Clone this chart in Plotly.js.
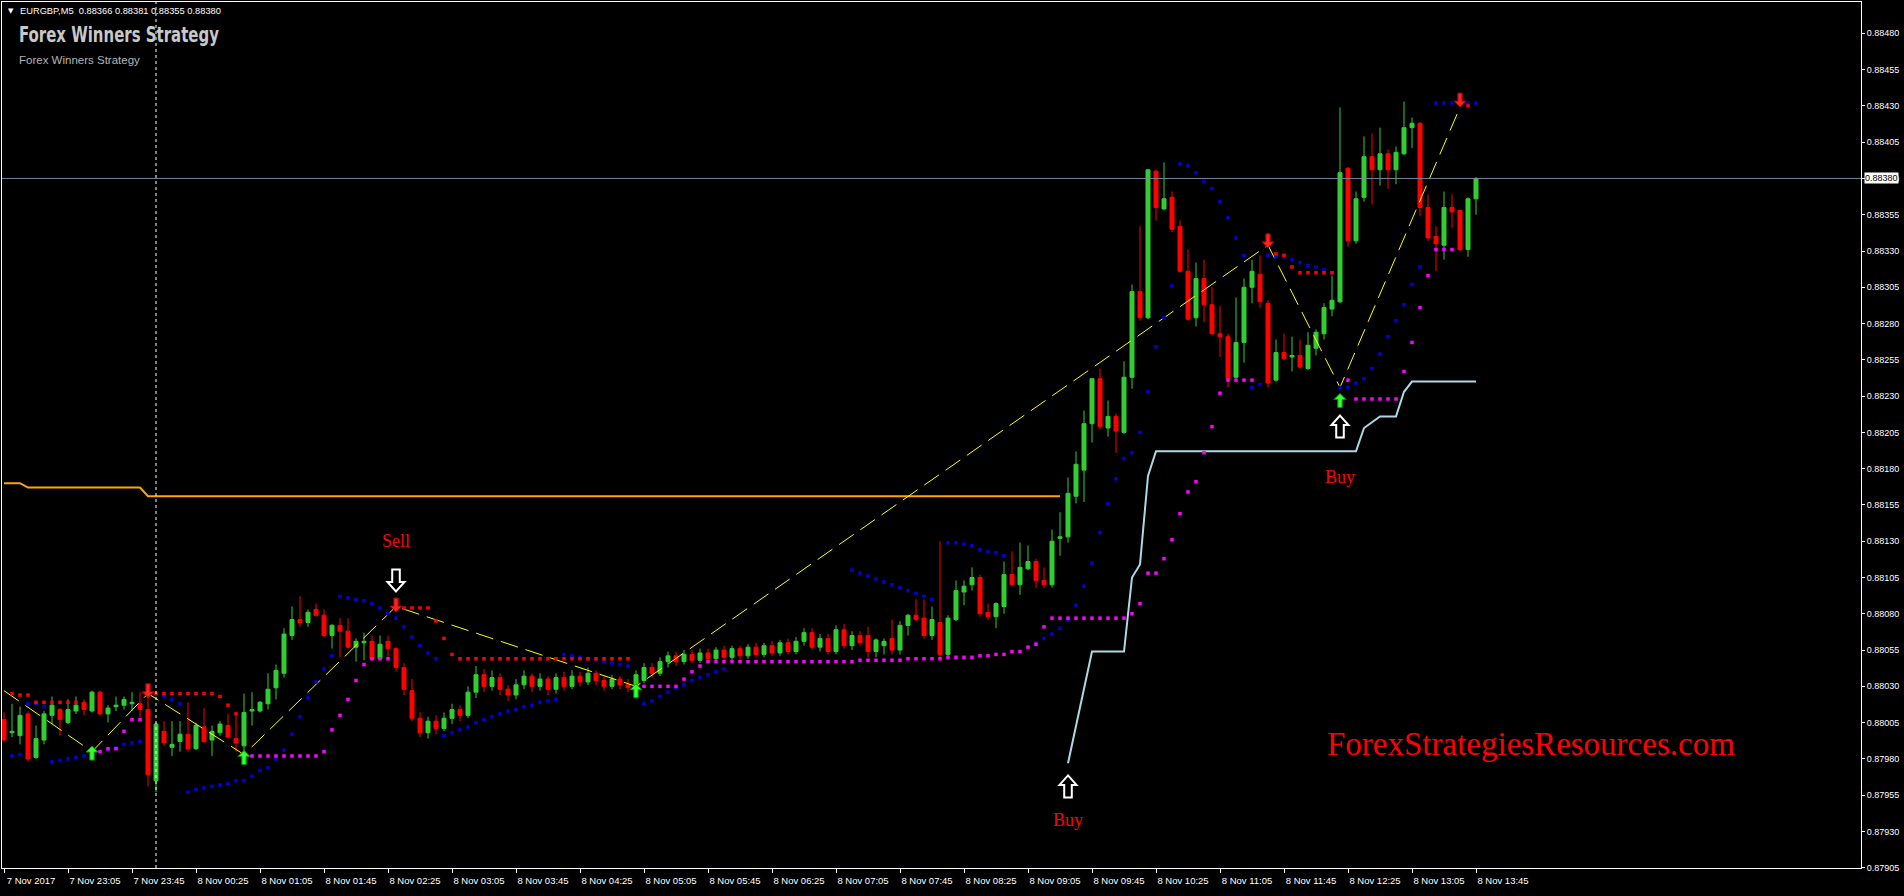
<!DOCTYPE html>
<html><head><meta charset="utf-8">
<script src="https://cdn.plot.ly/plotly-3.0.1.min.js"></script>
<style>html,body{margin:0;padding:0;background:#000;overflow:hidden}#chart{width:1904px;height:896px}</style>
</head><body><div id="chart"></div>
<script>
// ---- price data, one value per 5-minute bar (bar 0 = 7 Nov 22:25) ----
const openP = [0.88007,0.87998,0.87996,0.88011,0.87981,0.87993,0.88010,0.88014,0.88005,0.88013,0.88019,0.88013,0.88026,0.88011,0.88016,0.88017,0.88018,0.88018,0.88014,0.87965,
0.87999,0.87988,0.87992,0.87997,0.87987,0.88002,0.87993,0.87998,0.88003,0.87994,0.87989,0.88013,0.88013,0.88018,0.88029,0.88039,0.88065,0.88076,0.88074,0.88083,
0.88079,0.88065,0.88072,0.88068,0.88057,0.88060,0.88061,0.88049,0.88061,0.88056,0.88043,0.88027,0.88008,0.87998,0.88006,0.88001,0.88008,0.88014,0.88010,0.88026,
0.88038,0.88030,0.88036,0.88028,0.88024,0.88031,0.88037,0.88030,0.88035,0.88028,0.88036,0.88030,0.88037,0.88033,0.88039,0.88034,0.88030,0.88035,0.88031,0.88030,
0.88034,0.88043,0.88039,0.88047,0.88051,0.88047,0.88052,0.88048,0.88053,0.88049,0.88055,0.88050,0.88056,0.88051,0.88057,0.88052,0.88058,0.88053,0.88060,0.88054,
0.88061,0.88067,0.88057,0.88063,0.88054,0.88069,0.88058,0.88065,0.88065,0.88054,0.88058,0.88063,0.88055,0.88072,0.88079,0.88077,0.88065,0.88074,0.88052,0.88076,
0.88095,0.88100,0.88105,0.88081,0.88078,0.88085,0.88107,0.88100,0.88111,0.88116,0.88103,0.88100,0.88132,0.88133,0.88161,0.88179,0.88211,0.88242,0.88208,0.88216,
0.88205,0.88243,0.88302,0.88284,0.88385,0.88359,0.88367,0.88347,0.88316,0.88284,0.88311,0.88293,0.88273,0.88271,0.88243,0.88267,0.88305,0.88314,0.88294,0.88241,
0.88260,0.88257,0.88258,0.88249,0.88263,0.88273,0.88290,0.88295,0.88387,0.88337,0.88367,0.88395,0.88386,0.88397,0.88386,0.88397,0.88415,0.88418,0.88360,0.88340,
0.88334,0.88360,0.88358,0.88331,0.88366];
const highP = [0.88012,0.88018,0.88016,0.88013,0.88003,0.88013,0.88023,0.88015,0.88021,0.88023,0.88021,0.88027,0.88027,0.88017,0.88023,0.88023,0.88026,0.88026,0.88025,0.88005,
0.88006,0.88006,0.88006,0.88019,0.88005,0.88015,0.88003,0.88006,0.88011,0.88012,0.88025,0.88026,0.88020,0.88039,0.88045,0.88070,0.88085,0.88092,0.88083,0.88087,
0.88083,0.88073,0.88077,0.88077,0.88063,0.88067,0.88065,0.88065,0.88065,0.88057,0.88046,0.88035,0.88012,0.88009,0.88010,0.88012,0.88018,0.88017,0.88030,0.88044,
0.88042,0.88041,0.88039,0.88031,0.88035,0.88041,0.88039,0.88039,0.88037,0.88039,0.88040,0.88041,0.88040,0.88043,0.88041,0.88037,0.88038,0.88037,0.88035,0.88041,
0.88046,0.88046,0.88050,0.88054,0.88054,0.88055,0.88055,0.88056,0.88056,0.88057,0.88058,0.88058,0.88058,0.88059,0.88060,0.88060,0.88061,0.88062,0.88063,0.88064,
0.88070,0.88070,0.88066,0.88066,0.88072,0.88073,0.88068,0.88068,0.88071,0.88063,0.88063,0.88076,0.88075,0.88080,0.88090,0.88090,0.88085,0.88130,0.88079,0.88103,
0.88103,0.88112,0.88107,0.88087,0.88088,0.88116,0.88123,0.88129,0.88127,0.88118,0.88112,0.88138,0.88150,0.88174,0.88192,0.88220,0.88242,0.88249,0.88227,0.88218,
0.88254,0.88307,0.88347,0.88386,0.88386,0.88391,0.88371,0.88351,0.88331,0.88322,0.88324,0.88305,0.88292,0.88273,0.88298,0.88311,0.88324,0.88327,0.88296,0.88269,
0.88273,0.88271,0.88269,0.88274,0.88276,0.88294,0.88313,0.88429,0.88388,0.88371,0.88409,0.88411,0.88415,0.88400,0.88402,0.88433,0.88422,0.88419,0.88369,0.88347,
0.88371,0.88369,0.88358,0.88367,0.88381];
const lowP = [0.87992,0.87995,0.87990,0.87978,0.87980,0.87990,0.88004,0.87996,0.88004,0.88011,0.88010,0.88012,0.88010,0.88005,0.88013,0.88014,0.88013,0.88009,0.87961,0.87957,
0.87989,0.87982,0.87985,0.87985,0.87986,0.87991,0.87982,0.87996,0.87994,0.87985,0.87983,0.88003,0.88012,0.88014,0.88021,0.88036,0.88062,0.88071,0.88071,0.88078,
0.88064,0.88056,0.88050,0.88056,0.88047,0.88048,0.88048,0.88048,0.88049,0.88040,0.88024,0.88006,0.87995,0.87994,0.87997,0.87999,0.88004,0.88006,0.88008,0.88022,
0.88026,0.88027,0.88024,0.88020,0.88021,0.88028,0.88026,0.88027,0.88024,0.88025,0.88027,0.88028,0.88030,0.88031,0.88031,0.88027,0.88028,0.88028,0.88026,0.88028,
0.88032,0.88036,0.88037,0.88043,0.88044,0.88045,0.88046,0.88046,0.88046,0.88047,0.88048,0.88048,0.88049,0.88049,0.88050,0.88050,0.88051,0.88051,0.88052,0.88052,
0.88058,0.88055,0.88054,0.88052,0.88052,0.88056,0.88055,0.88058,0.88050,0.88050,0.88052,0.88052,0.88052,0.88065,0.88075,0.88063,0.88062,0.88048,0.88050,0.88075,
0.88086,0.88096,0.88078,0.88076,0.88070,0.88080,0.88099,0.88093,0.88110,0.88098,0.88098,0.88098,0.88120,0.88129,0.88156,0.88157,0.88198,0.88207,0.88202,0.88191,
0.88204,0.88235,0.88282,0.88283,0.88351,0.88358,0.88343,0.88315,0.88282,0.88278,0.88281,0.88272,0.88257,0.88236,0.88242,0.88253,0.88294,0.88291,0.88236,0.88240,
0.88255,0.88247,0.88249,0.88248,0.88258,0.88269,0.88285,0.88294,0.88333,0.88335,0.88364,0.88362,0.88375,0.88373,0.88376,0.88396,0.88401,0.88354,0.88337,0.88316,
0.88324,0.88346,0.88330,0.88326,0.88355];
const closeP = [0.87993,0.87999,0.88010,0.87980,0.87994,0.88011,0.88017,0.88007,0.88014,0.88017,0.88014,0.88026,0.88011,0.88015,0.88017,0.88021,0.88019,0.88014,0.87969,0.88004,
0.87991,0.87990,0.87997,0.87987,0.88003,0.87992,0.87999,0.88004,0.87995,0.87991,0.88012,0.88014,0.88019,0.88028,0.88041,0.88066,0.88076,0.88074,0.88081,0.88079,
0.88065,0.88072,0.88068,0.88057,0.88061,0.88061,0.88049,0.88059,0.88056,0.88043,0.88028,0.88008,0.87998,0.88006,0.88001,0.88008,0.88014,0.88010,0.88026,0.88038,
0.88030,0.88036,0.88028,0.88024,0.88031,0.88037,0.88030,0.88035,0.88028,0.88036,0.88030,0.88037,0.88033,0.88039,0.88034,0.88030,0.88035,0.88031,0.88029,0.88038,
0.88043,0.88039,0.88047,0.88051,0.88047,0.88052,0.88048,0.88053,0.88049,0.88055,0.88050,0.88056,0.88051,0.88057,0.88052,0.88058,0.88053,0.88060,0.88054,0.88061,
0.88067,0.88057,0.88063,0.88054,0.88069,0.88058,0.88065,0.88060,0.88054,0.88062,0.88061,0.88055,0.88072,0.88079,0.88076,0.88065,0.88076,0.88052,0.88077,0.88096,
0.88099,0.88105,0.88080,0.88078,0.88087,0.88107,0.88100,0.88112,0.88116,0.88103,0.88100,0.88130,0.88133,0.88163,0.88183,0.88211,0.88242,0.88209,0.88216,0.88206,
0.88243,0.88302,0.88284,0.88386,0.88360,0.88366,0.88345,0.88316,0.88283,0.88311,0.88293,0.88273,0.88271,0.88242,0.88267,0.88305,0.88316,0.88295,0.88239,0.88260,
0.88256,0.88258,0.88250,0.88265,0.88274,0.88291,0.88296,0.88384,0.88337,0.88366,0.88395,0.88386,0.88397,0.88386,0.88398,0.88415,0.88418,0.88360,0.88339,0.88335,
0.88360,0.88357,0.88331,0.88366,0.88380];

// time-axis labels, one every 8 bars
const timeLabels = ["7 Nov 2017","7 Nov 23:05","7 Nov 23:45","8 Nov 00:25","8 Nov 01:05","8 Nov 01:45","8 Nov 02:25","8 Nov 03:05",
"8 Nov 03:45","8 Nov 04:25","8 Nov 05:05","8 Nov 05:45","8 Nov 06:25","8 Nov 07:05","8 Nov 07:45","8 Nov 08:25",
"8 Nov 09:05","8 Nov 09:45","8 Nov 10:25","8 Nov 11:05","8 Nov 11:45","8 Nov 12:25","8 Nov 13:05","8 Nov 13:45"];
const labelEvery = 8;

// trailing stop lines
const orangeStop = [0.88170,0.88170,0.88170,
  0.88167,0.88167,0.88167,0.88167,0.88167,0.88167,0.88167,0.88167,0.88167,0.88167,0.88167,0.88167,0.88167,0.88167,0.88167]
  .concat(Array(115).fill(0.88161)); // bars 0..132
const blueStopStart = 133;
const blueStop = [0.87977,0.88003,0.88028,0.88054,0.88054,0.88054,0.88054,0.88054,0.88105,0.88114,0.88175,
  0.88192,0.88192,0.88192,0.88192,0.88192,0.88192,0.88192,0.88192,0.88192,0.88192,0.88192,0.88192,0.88192,0.88192,0.88192,0.88192,0.88192,0.88192,0.88192,0.88192,0.88192,0.88192,0.88192,0.88192,0.88192,0.88192,
  0.88208,0.88212,0.88216,0.88216,0.88216,0.88233,0.88240,0.88240,0.88240,0.88240,0.88240,0.88240,0.88240,0.88240,0.88240];

// zigzag
const zigBars = [0,11,18,30,49,79,158,167,182];
const zigPrices = [0.88027,0.87985,0.88025,0.87983,0.88085,0.88030,0.88334,0.88236,0.88429];
const upArrowBars = [11,30,79,167];
const upArrowPrices = [0.87984,0.87981,0.88027,0.88227];
const downArrowBars = [18,49,158,182];
const downArrowPrices = [0.88027,0.88086,0.88337,0.88434];

// dotted indicator levels
const blueDotBars = [1,2,3,4,5,6,7,8,9,10,13,14,15,16,17,20,21,22,23,24,25,26,27,28,29,30,31,32,33,34,35,36,37,38,39,40,41,42,43,44,45,46,47,48,49,50,51,52,53,54,
  55,56,57,58,59,60,61,62,63,64,65,66,67,68,69,70,71,72,73,74,75,76,77,78,80,81,82,83,84,85,86,87,88,89,90,
  106,107,108,109,110,111,112,113,114,115,116,118,119,120,121,122,123,124,125,129,130,131,132,133,134,135,136,137,138,139,140,141,142,143,144,145,146,147,148,149,150,151,152,153,154,155,156,157,158,159,160,161,162,163,164,165,166,167,168,169,170,171,172,173,174,175,176,177,179,180,181,183,184];
const blueDotPrices = [0.87982,0.87983,0.88018,0.88018,0.88016,0.87978,0.87979,0.87980,0.87981,0.87982,0.87986,0.87988,0.87990,0.87991,0.87992,0.88023,0.88021,0.88018,0.87957,0.87959,0.87960,0.87961,0.87962,0.87963,0.87965,0.87965,0.87968,0.87972,0.87974,0.87980,0.87986,0.87997,0.88009,0.88022,0.88033,0.88042,0.88051,0.88092,0.88091,0.88090,0.88089,0.88087,0.88084,0.88080,0.88077,0.88071,0.88064,0.88058,0.88053,0.88049,
  0.87996,0.87998,0.88000,0.88002,0.88005,0.88007,0.88009,0.88011,0.88013,0.88014,0.88016,0.88017,0.88019,0.88020,0.88021,0.88052,0.88051,0.88050,0.88049,0.88048,0.88047,0.88046,0.88045,0.88044,
  0.88018,0.88020,0.88023,0.88026,0.88029,0.88031,0.88034,0.88036,0.88038,0.88040,0.88042,
  0.88110,0.88108,0.88106,0.88104,0.88102,0.88100,0.88098,0.88096,0.88094,0.88092,0.88090,0.88129,0.88129,0.88128,0.88127,0.88124,0.88123,0.88122,0.88120,0.88060,0.88063,0.88066,0.88070,0.88076,0.88086,0.88099,0.88115,0.88136,0.88156,0.88173,0.88187,0.88191,0.88205,0.88233,0.88264,0.88284,0.88306,0.88390,0.88389,0.88384,0.88378,0.88373,0.88364,0.88353,0.88339,0.88327,0.88236,0.88238,0.88327,0.88326,0.88326,0.88324,0.88322,0.88320,0.88319,0.88317,0.88315,0.88236,0.88236,0.88239,0.88242,0.88249,0.88259,0.88271,0.88282,0.88293,0.88307,0.88319,0.88432,0.88432,0.88432,0.88432,0.88432];
const redDotBars = [1,2,3,4,5,6,7,8,9,19,20,21,22,23,24,25,26,27,28,29,50,51,52,53,54,55,56,
  57,58,59,60,61,62,63,64,65,66,67,68,69,70,71,72,73,74,75,76,77,78,
  159,160,161,162,163,164,165,166,183];
const redDotPrices = [0.88025,0.88024,0.88024,0.88019,0.88019,0.88019,0.88019,0.88019,0.88019,0.88025,0.88025,0.88025,0.88025,0.88025,0.88025,0.88025,0.88025,0.88023,0.88017,0.88011,0.88084,0.88084,0.88084,0.88084,0.88075,0.88063,0.88052,
  0.88049,0.88049,0.88049,0.88049,0.88049,0.88049,0.88049,0.88049,0.88049,0.88049,0.88049,0.88049,0.88049,0.88049,0.88049,0.88049,0.88049,0.88049,0.88049,0.88049,0.88049,0.88049,
  0.88328,0.88327,0.88319,0.88315,0.88315,0.88315,0.88315,0.88315,0.88430];
const magDotBars = [12,13,14,15,16,17,31,32,33,34,35,36,37,38,39,40,41,42,43,44,45,46,47,48,
  80,81,82,83,84,85,86,87,88,89,90,91,92,93,94,95,96,97,98,99,100,101,102,103,104,105,106,107,108,109,110,111,112,113,114,115,116,117,118,119,120,121,122,123,124,125,126,127,128,
  129,130,131,132,133,134,135,136,137,138,139,140,141,142,143,144,145,146,147,148,149,150,151,152,153,154,155,156,168,169,170,171,172,173,174,175,176,177,178,179,180,181];
const magDotPrices = [0.87985,0.87987,0.87987,0.87999,0.88007,0.88007,0.87982,0.87982,0.87982,0.87982,0.87982,0.87982,0.87982,0.87982,0.87982,0.87985,0.88000,0.88010,0.88021,0.88034,0.88045,0.88049,0.88049,0.88049,
  0.88030,0.88030,0.88030,0.88030,0.88030,0.88035,0.88040,0.88044,0.88047,0.88047,0.88047,0.88047,0.88047,0.88047,0.88047,0.88047,0.88047,0.88047,0.88047,0.88047,0.88047,0.88047,0.88047,0.88047,0.88047,0.88047,0.88047,
  0.88048,0.88048,0.88048,0.88048,0.88048,0.88048,0.88049,0.88049,0.88049,0.88049,0.88049,0.88050,0.88050,0.88050,0.88050,0.88051,0.88051,0.88052,0.88052,0.88054,0.88054,0.88057,0.88059,
  0.88071,0.88077,0.88077,0.88077,0.88077,0.88077,0.88077,0.88077,0.88077,0.88077,0.88077,0.88080,0.88087,0.88108,0.88108,0.88118,0.88131,0.88149,0.88164,0.88171,0.88191,0.88209,0.88232,0.88241,0.88241,0.88241,0.88241,0.88241,0.88228,0.88228,0.88228,0.88228,0.88228,0.88228,0.88247,0.88267,0.88291,0.88313,0.88331,0.88331,0.88331,0.88331];

// buy / sell signals
const signalBars = [49,133,167];
const signalLabels = ["Sell","Buy","Buy"];
const signalArrowPrices = [0.88103,0.87961,0.88209];
const signalTextPrices = [0.88129,0.87937,0.88173];

const currentPrice = 0.88380;
const separatorBar = 19;

// ---------------------------------------------------------------
const N = openP.length;
const idx = Array.from({length: N}, (_, i) => i);
const range = (a, n) => Array.from({length: n}, (_, i) => a + i);

const traces = [];
traces.push({type:'scatter', mode:'lines', x: range(0, orangeStop.length), y: orangeStop,
  line:{color:'#FFA500', width:2}, hoverinfo:'skip'});
traces.push({type:'scatter', mode:'lines', x: range(blueStopStart, blueStop.length), y: blueStop,
  line:{color:'#ADD8E6', width:2}, hoverinfo:'skip'});
traces.push({type:'candlestick', x: idx, open: openP, high: highP, low: lowP, close: closeP,
  whiskerwidth: 0,
  increasing:{line:{color:'#32CD32', width:1}, fillcolor:'#32CD32'},
  decreasing:{line:{color:'#FF0000', width:1}, fillcolor:'#FF0000'},
  hoverinfo:'skip'});
traces.push({type:'scatter', mode:'lines', x: zigBars, y: zigPrices,
  line:{color:'#FFFF00', width:1, dash:'18px,8px'}, hoverinfo:'skip'});
traces.push({type:'scatter', mode:'markers', x: blueDotBars, y: blueDotPrices,
  marker:{symbol:'square', size:3.5, color:'#0000DD'}, hoverinfo:'skip'});
traces.push({type:'scatter', mode:'markers', x: redDotBars, y: redDotPrices,
  marker:{symbol:'square', size:3.5, color:'#FF0000'}, hoverinfo:'skip'});
traces.push({type:'scatter', mode:'markers', x: magDotBars, y: magDotPrices,
  marker:{symbol:'square', size:3.5, color:'#FF00FF'}, hoverinfo:'skip'});
traces.push({type:'scatter', mode:'text', x: signalBars, y: signalTextPrices, text: signalLabels,
  textfont:{family:'Liberation Serif', size:18, color:'#FF0000'}, hoverinfo:'skip'});

// arrow glyph outlines (pixel geometry, anchored at data points)
const SMALL_UP = 'M0,7 L6,1 L2.2,1 L2.2,-7 L-2.2,-7 L-2.2,1 L-6,1 Z';
const SMALL_DOWN = 'M0,-7 L6,-1 L2.2,-1 L2.2,7 L-2.2,7 L-2.2,-1 L-6,-1 Z';
const BIG_UP = 'M0,11 L8.5,1.5 L3.8,1.5 L3.8,-11 L-3.8,-11 L-3.8,1.5 L-8.5,1.5 Z';
const BIG_DOWN = 'M0,-11 L8.5,-1.5 L3.8,-1.5 L3.8,11 L-3.8,11 L-3.8,-1.5 L-8.5,-1.5 Z';
const arrowShape = (bar, price, path, fill, edge, w) => ({type:'path', xref:'x', yref:'y',
  xsizemode:'pixel', ysizemode:'pixel', xanchor: bar, yanchor: price, path: path,
  fillcolor: fill, line:{color: edge, width: w}, layer:'above'});
const arrowShapes = [];
upArrowBars.forEach((b, i) => arrowShapes.push(arrowShape(b, upArrowPrices[i], SMALL_UP, '#33FF33', '#009900', 1)));
downArrowBars.forEach((b, i) => arrowShapes.push(arrowShape(b, downArrowPrices[i], SMALL_DOWN, '#FF2020', '#A00000', 1)));
signalBars.forEach((b, i) => arrowShapes.push(arrowShape(b, signalArrowPrices[i],
  signalLabels[i] === 'Sell' ? BIG_DOWN : BIG_UP, '#000000', '#FFFFFF', 2)));

const tickVals = timeLabels.map((_, i) => i * labelEvery);

const layout = {
  width: 1904, height: 896,
  paper_bgcolor: '#000000', plot_bgcolor: '#000000',
  margin: {l: 2, r: 43, t: 2, b: 28},
  showlegend: false, hovermode: false,
  boxgap: 0.5, boxgroupgap: 0,
  xaxis: {range: [-0.25, 232.125], showgrid: false, zeroline: false, rangeslider: {visible: false},
    showline: true, linecolor: '#FFFFFF', linewidth: 1, mirror: true,
    tickmode: 'array', tickvals: tickVals, ticktext: timeLabels,
    ticks: 'outside', ticklen: 4, tickcolor: '#FFFFFF', ticklabelshift: 27,
    tickfont: {family: 'Liberation Sans', size: 9.5, color: '#FFFFFF'}, fixedrange: true},
  yaxis: {range: [0.879048, 0.885016], side: 'right', showgrid: false, zeroline: false,
    showline: true, linecolor: '#FFFFFF', linewidth: 1, mirror: true,
    tick0: 0.87905, dtick: 0.00025, tickformat: '.5f',
    ticks: 'outside', ticklen: 3, tickcolor: '#FFFFFF',
    tickfont: {family: 'Liberation Sans', size: 9, color: '#FFFFFF'}, fixedrange: true},
  shapes: [
    {type:'line', xref:'paper', x0:0, x1:1, yref:'y', y0: currentPrice, y1: currentPrice,
      line:{color:'#778899', width:1}},
    {type:'line', xref:'x', x0: separatorBar, x1: separatorBar, yref:'paper', y0:0, y1:1,
      line:{color:'#FFFFFF', width:1, dash:'3px,3px'}}
  ].concat(arrowShapes),
  annotations: [
    {xref:'paper', yref:'y', x:1, y: currentPrice, xanchor:'left', yanchor:'middle', xshift:3,
      text: currentPrice.toFixed(5), showarrow:false, bgcolor:'#FFFFFF', borderpad:0,
      font:{family:'Liberation Sans', size:9, color:'#000000'}},
    {xref:'paper', yref:'paper', x:0.0022, y:0.9899, xanchor:'left', yanchor:'middle', showarrow:false,
      text:'▼', font:{family:'DejaVu Sans', size:7, color:'#FFFFFF'}},
    {xref:'paper', yref:'paper', x:0.0086, y:0.9899, xanchor:'left', yanchor:'middle', showarrow:false,
      text:'EURGBP,M5  0.88366 0.88381 0.88355 0.88380', font:{family:'Liberation Sans', size:9.3, color:'#FFFFFF'}},
    {xref:'paper', yref:'paper', x:0.0081, y:0.9619, xanchor:'left', yanchor:'middle', showarrow:false,
      text:'<b>Forex Winners Strategy</b>', font:{family:'DejaVu Sans Condensed, DejaVu Sans', size:22, color:'#C8C8C8'}},
    {xref:'paper', yref:'paper', x:0.0081, y:0.9330, xanchor:'left', yanchor:'middle', showarrow:false,
      text:'Forex Winners Strategy', font:{family:'Liberation Sans', size:11.5, color:'#B4B4B4'}},
    {xref:'paper', yref:'paper', x:0.7117, y:0.1432, xanchor:'left', yanchor:'middle', showarrow:false,
      text:'ForexStrategiesResources.com', font:{family:'Liberation Serif', size:33, color:'#FF0000'}}
  ]
};

Plotly.newPlot('chart', traces, layout, {staticPlot: true, displayModeBar: false}).then(() => {
  // condense the heading horizontally (the original uses a narrow display face)
  const t = document.querySelector('.annotation[data-index="3"] text');
  if (t) {
    const w = t.getBBox().width;
    const target = 200;
    if (w > target) {
      t.style.transformBox = 'fill-box';
      t.style.transformOrigin = '0% 50%';
      t.style.transform = 'scaleX(' + (target / w).toFixed(3) + ')';
    }
  }
});
</script>
</body></html>
